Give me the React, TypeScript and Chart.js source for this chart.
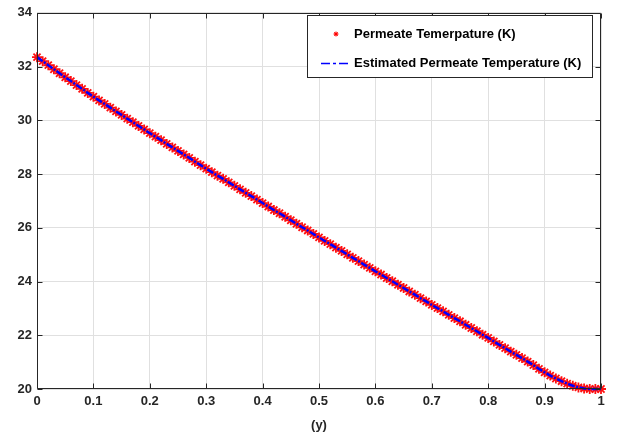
import React, { useEffect, useRef } from "react";
import { Chart, registerables } from "chart.js";

Chart.register(...registerables);

const xValues = [
  0.0, 0.01, 0.02, 0.03, 0.04, 0.05, 0.06, 0.07, 0.08, 0.09,
  0.1, 0.11, 0.12, 0.13, 0.14, 0.15, 0.16, 0.17, 0.18, 0.19,
  0.2, 0.21, 0.22, 0.23, 0.24, 0.25, 0.26, 0.27, 0.28, 0.29,
  0.3, 0.31, 0.32, 0.33, 0.34, 0.35, 0.36, 0.37, 0.38, 0.39,
  0.4, 0.41, 0.42, 0.43, 0.44, 0.45, 0.46, 0.47, 0.48, 0.49,
  0.5, 0.51, 0.52, 0.53, 0.54, 0.55, 0.56, 0.57, 0.58, 0.59,
  0.6, 0.61, 0.62, 0.63, 0.64, 0.65, 0.66, 0.67, 0.68, 0.69,
  0.7, 0.71, 0.72, 0.73, 0.74, 0.75, 0.76, 0.77, 0.78, 0.79,
  0.8, 0.81, 0.82, 0.83, 0.84, 0.85, 0.86, 0.87, 0.88, 0.89,
  0.9, 0.91, 0.92, 0.93, 0.94, 0.95, 0.96, 0.97, 0.98, 0.99,
  1.0,
];

const permeateTemp = [
  32.35, 32.2, 32.05, 31.9, 31.75, 31.6, 31.46, 31.31, 31.17, 31.02,
  30.88, 30.74, 30.61, 30.47, 30.33, 30.2, 30.06, 29.93, 29.79, 29.66,
  29.52, 29.39, 29.26, 29.12, 28.99, 28.86, 28.73, 28.6, 28.46, 28.33,
  28.2, 28.07, 27.94, 27.82, 27.69, 27.56, 27.43, 27.3, 27.18, 27.05,
  26.92, 26.79, 26.66, 26.54, 26.41, 26.28, 26.15, 26.02, 25.9, 25.77,
  25.64, 25.51, 25.39, 25.26, 25.14, 25.01, 24.88, 24.76, 24.63, 24.51,
  24.38, 24.26, 24.13, 24.01, 23.88, 23.76, 23.63, 23.51, 23.38, 23.26,
  23.13, 23.01, 22.89, 22.76, 22.64, 22.52, 22.39, 22.27, 22.15, 22.02,
  21.9, 21.77, 21.64, 21.52, 21.39, 21.27, 21.15, 21.02, 20.89, 20.75,
  20.62, 20.5, 20.39, 20.29, 20.2, 20.12, 20.06, 20.02, 20.0, 20.0,
  20.0,
];

const estimatedTemp = [
  32.35, 32.2, 32.05, 31.9, 31.75, 31.6, 31.46, 31.31, 31.17, 31.02,
  30.88, 30.74, 30.61, 30.47, 30.33, 30.2, 30.06, 29.93, 29.79, 29.66,
  29.52, 29.39, 29.26, 29.12, 28.99, 28.86, 28.73, 28.6, 28.46, 28.33,
  28.2, 28.07, 27.94, 27.82, 27.69, 27.56, 27.43, 27.3, 27.18, 27.05,
  26.92, 26.79, 26.66, 26.54, 26.41, 26.28, 26.15, 26.02, 25.9, 25.77,
  25.64, 25.51, 25.39, 25.26, 25.14, 25.01, 24.88, 24.76, 24.63, 24.51,
  24.38, 24.26, 24.13, 24.01, 23.88, 23.76, 23.63, 23.51, 23.38, 23.26,
  23.13, 23.01, 22.89, 22.76, 22.64, 22.52, 22.39, 22.27, 22.15, 22.02,
  21.9, 21.77, 21.64, 21.52, 21.39, 21.27, 21.15, 21.02, 20.89, 20.75,
  20.62, 20.5, 20.39, 20.29, 20.2, 20.12, 20.06, 20.02, 20.0, 20.0,
  20.0,
];

const xTickValues = [0, 0.1, 0.2, 0.3, 0.4, 0.5, 0.6, 0.7, 0.8, 0.9, 1];
const xTickLabels = ["0", "0.1", "0.2", "0.3", "0.4", "0.5", "0.6", "0.7", "0.8", "0.9", "1"];
const yTickValues = [20, 22, 24, 26, 28, 30, 32, 34];
const yTickLabels = ["20", "22", "24", "26", "28", "30", "32", "34"];
const seriesLabels = ["Permeate Temerpature (K)", "Estimated Permeate Temperature (K)"];
const xAxisTitle = "(y)";

const FONT = "'Liberation Sans', Arial, Helvetica, sans-serif";
const AXIS_COLOR = "#262626";

const framePlugin = {
  id: "matlabFrame",
  afterDraw(chart: any) {
    const { ctx, chartArea: a, scales } = chart;
    ctx.save();
    ctx.strokeStyle = AXIS_COLOR;
    ctx.lineWidth = 1;
    const L = Math.round(a.left) + 0.5;
    const R = Math.round(a.right) - 0.5;
    const T = Math.round(a.top) + 0.5;
    const B = Math.round(a.bottom) - 0.5;
    ctx.beginPath();
    ctx.rect(L, T, R - L, B - T);
    ctx.stroke();
    const tl = 5;
    ctx.beginPath();
    xTickValues.forEach((v) => {
      const px = Math.round(scales.x.getPixelForValue(v)) + 0.5;
      ctx.moveTo(px, B);
      ctx.lineTo(px, B - tl);
      ctx.moveTo(px, T);
      ctx.lineTo(px, T + tl);
    });
    yTickValues.forEach((v) => {
      const py = Math.round(scales.y.getPixelForValue(v)) + 0.5;
      ctx.moveTo(L, py);
      ctx.lineTo(L + tl, py);
      ctx.moveTo(R, py);
      ctx.lineTo(R - tl, py);
    });
    ctx.stroke();

    // legend
    const bx = 307.5, by = 15.5, bw = 285, bh = 62;
    ctx.fillStyle = "#ffffff";
    ctx.fillRect(bx, by, bw, bh);
    ctx.strokeStyle = AXIS_COLOR;
    ctx.strokeRect(bx, by, bw, bh);

    // row 1 marker (asterisk)
    const mx = 336, my = 34;
    ctx.strokeStyle = "#ff0000";
    ctx.lineWidth = 1;
    ctx.beginPath();
    const r = 2.5;
    for (let k = 0; k < 4; k++) {
      const ang = (k * Math.PI) / 4;
      ctx.moveTo(mx - r * Math.cos(ang), my - r * Math.sin(ang));
      ctx.lineTo(mx + r * Math.cos(ang), my + r * Math.sin(ang));
    }
    ctx.stroke();
    ctx.fillStyle = "#ff0000";
    ctx.beginPath();
    ctx.arc(mx, my, 1.6, 0, Math.PI * 2);
    ctx.fill();

    // row 2 dash-dot line
    const ly = 63.5;
    ctx.strokeStyle = "#0000ff";
    ctx.lineWidth = 1.5;
    ctx.beginPath();
    ctx.moveTo(321, ly);
    ctx.lineTo(330, ly);
    ctx.moveTo(333, ly);
    ctx.lineTo(336, ly);
    ctx.moveTo(339, ly);
    ctx.lineTo(348, ly);
    ctx.stroke();

    ctx.fillStyle = "#000000";
    ctx.font = `bold 13px ${FONT}`;
    ctx.textAlign = "left";
    ctx.textBaseline = "middle";
    ctx.fillText(seriesLabels[0], 354, 34);
    ctx.fillText(seriesLabels[1], 354, 63);
    ctx.restore();
  },
};

export default function App() {
  const canvasRef = useRef<HTMLCanvasElement | null>(null);

  useEffect(() => {
    document.body.style.margin = "0";
    const canvas = canvasRef.current;
    if (!canvas) return;
    const pts = xValues.map((x, i) => ({ x, y: permeateTemp[i] }));
    const est = xValues.map((x, i) => ({ x, y: estimatedTemp[i] }));
    const tickFont = { family: FONT, size: 13, weight: "bold" as const };
    const chart = new Chart(canvas, {
      type: "scatter",
      data: {
        datasets: [
          {
            label: seriesLabels[1],
            data: est,
            showLine: true,
            borderColor: "#0000ff",
            borderWidth: 2.5,
            borderDash: [7, 1.5, 2, 1.5],
            pointRadius: 0,
            tension: 0,
            clip: false,
            order: 0,
          } as any,
          {
            label: seriesLabels[0],
            data: pts,
            showLine: false,
            pointStyle: "star",
            pointRadius: 5,
            borderColor: "#ff1010",
            backgroundColor: "#ff1010",
            pointBorderWidth: 1.8,
            clip: false,
            order: 1,
          } as any,
        ],
      },
      options: {
        animation: false,
        responsive: false,
        devicePixelRatio: 1,
        layout: { padding: { left: 0, right: 16, top: 12, bottom: 0 } },
        plugins: { legend: { display: false }, tooltip: { enabled: false } },
        scales: {
          x: {
            type: "linear",
            min: 0,
            max: 1,
            afterBuildTicks: (s: any) => {
              s.ticks = xTickValues.map((v) => ({ value: v }));
            },
            afterFit: (s: any) => {
              s.height = 47;
            },
            ticks: {
              callback: (_v: any, i: number) => xTickLabels[i],
              font: tickFont,
              color: AXIS_COLOR,
              padding: 5,
              maxRotation: 0,
              autoSkip: false,
            },
            grid: { color: "#e0e0e0", drawTicks: false, lineWidth: 1 },
            border: { display: false },
            title: {
              display: true,
              text: xAxisTitle,
              font: { family: FONT, size: 13, weight: "bold" },
              color: AXIS_COLOR,
              padding: { top: 0, bottom: 3 },
            },
          },
          y: {
            type: "linear",
            min: 20,
            max: 34,
            afterBuildTicks: (s: any) => {
              s.ticks = yTickValues.map((v) => ({ value: v }));
            },
            afterFit: (s: any) => {
              s.width = 37;
            },
            ticks: {
              callback: (_v: any, i: number) => yTickLabels[i],
              font: tickFont,
              color: AXIS_COLOR,
              padding: 5,
              autoSkip: false,
            },
            grid: { color: "#e0e0e0", drawTicks: false, lineWidth: 1 },
            border: { display: false },
          },
        },
      },
      plugins: [framePlugin],
    });
    return () => chart.destroy();
  }, []);

  return (
    <div style={{ width: 617, height: 436, background: "#ffffff" }}>
      <canvas ref={canvasRef} width={617} height={436} style={{ display: "block" }} />
    </div>
  );
}
